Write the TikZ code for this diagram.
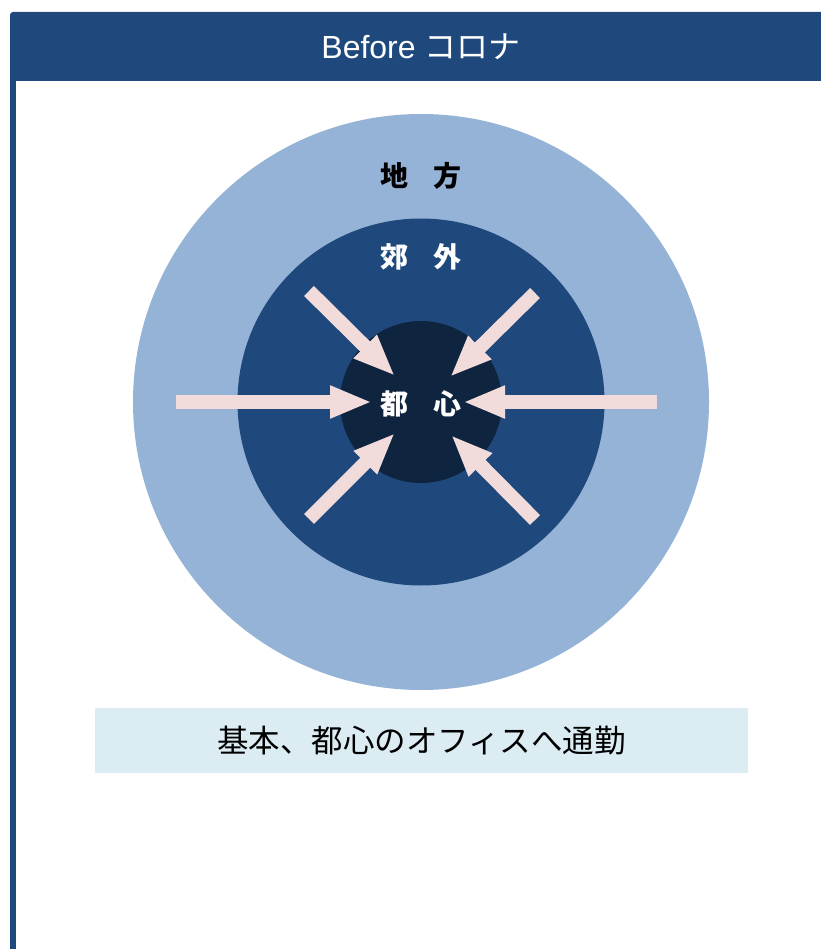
\documentclass[tikz,border=0pt]{standalone}
\usepackage{fontspec}
\setmainfont{Liberation Sans}
\newfontfamily\cjk{Noto Sans CJK JP}
\usetikzlibrary{positioning,arrows.meta}
\definecolor{navy}{RGB}{31,73,125}
\definecolor{paleblue}{RGB}{149,179,215}
\definecolor{deepnavy}{RGB}{15,36,62}
\definecolor{pinkarrow}{RGB}{242,220,219}
\definecolor{notefill}{RGB}{219,237,243}
\tikzset{
  ring/.style={circle, inner sep=0pt, draw=none},
  ringlabel/.style={font=\cjk\bfseries\fontsize{28}{30}\selectfont, inner sep=0pt},
  inflow/.style={-{Triangle[length=42pt, width=30pt]}, line width=14pt, draw=pinkarrow},
  notebox/.style={fill=notefill, minimum width=653pt, minimum height=65pt, inner sep=0pt,
    font=\cjk\fontsize{31.5}{33}\selectfont}
}

\begin{document}
\begin{tikzpicture}[x=1pt, y=-1pt]
  \useasboundingbox (0,0) rectangle (820,949);
  % header and frame
  \fill[navy, rounded corners=3pt] (10,12) rectangle (830,81);
  \fill[navy] (10,70) rectangle (16,949);
  \node[text=white, font=\fontsize{32}{34}\selectfont, inner sep=0pt] (title) at (421,47) {Before {\cjk コロナ}};

  % rings
  \node[ring, fill=paleblue, minimum size=576pt] (chiho) at (421,402) {};
  \node[ring, fill=navy, minimum size=367pt] (kogai) at (421,402) {};
  \node[ring, fill=deepnavy, minimum size=162pt] (toshin) at (421,402) {};

  \node[ringlabel, text=black] (chiholbl) at (421,176) {地\hspace{25pt}方};
  \node[ringlabel, text=white] (kogailbl) at (421,257) {郊\hspace{25pt}外};
  \node[ringlabel, text=white] (toshinlbl) at (421,404) {都\hspace{25pt}心};

  % arrows into the centre
  \coordinate (wtail) at (176,402);  \coordinate (wtip) at (372,402);
  \coordinate (etail) at (657,402);  \coordinate (etip) at (463,402);
  \coordinate (nwtail) at (309,291); \coordinate (nwtip) at (395,376);
  \coordinate (netail) at (535,293); \coordinate (netip) at (450,377);
  \coordinate (swtail) at (309,519); \coordinate (swtip) at (395,433);
  \coordinate (setail) at (535,520); \coordinate (setip) at (451,435);
  \foreach \d in {w,e,nw,ne,sw,se}
    \draw[inflow] (\d tail) -- (\d tip);

  % caption
  \node[notebox] (commute) at (421.5,740.5) {基本、都心のオフィスへ通勤};
\end{tikzpicture}
\end{document}
